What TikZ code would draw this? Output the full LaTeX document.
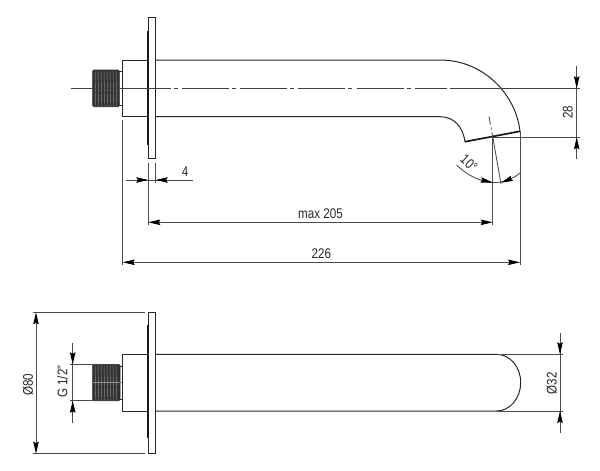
\documentclass[tikz,border=0pt]{standalone}
\usepackage{fontspec}
\setmainfont[FakeStretch=0.83]{Liberation Sans}
\usetikzlibrary{arrows.meta,positioning,calc}

\begin{document}
\begin{tikzpicture}[
    x=1pt, y=-1pt,
    part/.style={draw=black!85, line width=1pt},
    heavy/.style={draw=black!90, line width=1.7pt},
    dimline/.style={draw=black!70, line width=0.85pt},
    centerline/.style={draw=black!75, line width=0.75pt},
    tip/.tip={Stealth[length=12pt,width=5.5pt,inset=1.5pt,color=black]},
    arrow/.style={-tip, draw=black!70, line width=0.85pt},
    twoway/.style={tip-tip, draw=black!70, line width=0.85pt},
    dimtext/.style={font=\fontsize{14}{16}\selectfont, text=black!85, inner sep=0pt},
    thread/.style={fill=black!80, draw=black!85, rounded corners=1.2pt, line width=0.6pt},
    groove/.style={black!45, line width=0.45pt}
]
\useasboundingbox (0,0) rectangle (600,471);

% Top view: pipe
\coordinate (TopA) at (122.7,60);
\coordinate (TopB) at (122.7,116.7);
\coordinate (TipOut) at (520,131.3);
\coordinate (TipIn) at (465,141.7);
\coordinate (TipMid) at (492.7,136.5);
\draw[part] (155.7,60) -- (440,60) .. controls (484,60) and (516,95) .. (TipOut);
\draw[part] (155.7,116.7) -- (440,116.7) .. controls (455,116.7) and (463,128) .. (TipIn);
\draw[part] (148.3,60) -- (TopA) -- (TopB) -- (148.3,116.7);
\draw[heavy] (TipIn) -- (TipOut);

% Top view: flange
\draw[part, fill=white] (148.3,17.3) rectangle (155.7,158.7);
\draw[heavy] (147.8,30.7) -- (147.8,145);

% Top view: thread
\draw[part] (119.3,71.7) -- (122.7,71.7) (119.3,105) -- (122.7,105);
\draw[thread] (92.7,70) rectangle (119.3,106.7);
\foreach \tx in {95,98,...,117} {
  \draw[groove] (\tx,70.5) -- (\tx+0.8,106.2);
}

% Top view: centre lines
\draw[centerline] (71,88.3) -- (170.5,88.3);
\draw[centerline, dash pattern=on 4pt off 4.3pt on 47pt off 3pt] (173.5,88.3) -- (447,88.3);
\draw[centerline] (450,88.3) -- (580,88.3);
\draw[dimline, dash pattern=on 8pt off 3pt on 2pt off 3pt] (489,116.7) -- (TipMid);

% Extension lines
\coordinate (Ext4) at (155.7,183);
\coordinate (ExtFl) at (148.3,225);
\coordinate (ExtBody) at (122.7,265);
\coordinate (ExtIn) at (492.7,225);
\coordinate (ExtOut) at (520,265);
\draw[dimline] (155.7,162.7) -- (Ext4);
\draw[dimline] (148.3,162.7) -- (ExtFl);
\draw[dimline] (122.7,120) -- (ExtBody);
\draw[dimline] (TipMid) -- (ExtIn);
\draw[dimline] (TipOut) -- (ExtOut);
\draw[dimline] (TipMid) -- (501,184);
\draw[dimline] (493,137.3) -- (580,137.3);

% Dimension: 4
\draw[dimline] (126,180) -- (193,180);
\draw[arrow] (136,180) -- (148.3,180);
\draw[arrow] (168,180) -- (155.7,180);
\node[dimtext] (Thick) at (185,172) {4};

% Dimension: max 205
\draw[twoway] (148.3,222.3) -- node[dimtext, above=3pt] (Reach) {max 205} (492.7,222.3);

% Dimension: 226
\draw[twoway] (122.7,262.3) -- node[dimtext, above=3pt] (Total) {226} (520,262.3);

% Dimension: 28
\draw[dimline] (576.7,66) -- (576.7,159.3);
\draw[arrow] (576.7,76) -- (576.7,88.3);
\draw[arrow] (576.7,150) -- (576.7,137.3);
\node[dimtext, rotate=90] (Drop) at (567.7,112.3) {28};

% Dimension: 10 degrees
\draw[dimline] (456.7,165) .. controls (468,176) and (481,182) .. (493,182.5) .. controls (503,183) and (513,179) .. (520,173);
\draw[arrow] (481,180) -- (492.7,182.5);
\draw[arrow] (512,178.3) -- (501,182.7);
\node[dimtext, rotate=-42] (Angle) at (469,163) {10°};

% Side view: pipe
\coordinate (SideA) at (122.3,354.3);
\coordinate (SideB) at (122.3,411);
\draw[part] (155.7,354.3) -- (496.7,354.3) .. controls (510,354.3) and (520.7,367) .. (520.7,382.6)
  .. controls (520.7,398) and (510,411) .. (496.7,411) -- (155.7,411);
\draw[part] (148.3,354.3) -- (SideA) -- (SideB) -- (148.3,411);

% Side view: flange
\draw[part, fill=white] (148.3,312.3) rectangle (155.7,453.7);
\draw[heavy] (147.8,325) -- (147.8,438);

% Side view: thread
\draw[part] (120,366) -- (122.3,366) (120,399) -- (122.3,399);
\draw[thread] (92.7,364.3) rectangle (120,400.7);
\foreach \tx in {95,98,...,118} {
  \draw[groove] (\tx,364.8) -- (\tx+0.8,400.2);
}
\draw[groove] (92.7,382.6) -- (122.3,382.6);

% Dimension: 80
\draw[dimline] (33,312.3) -- (145,312.3);
\draw[dimline] (33,453.7) -- (145,453.7);
\draw[twoway] (36,312.3) -- (36,453.7);
\node[dimtext, rotate=90] (Plate) at (28,385) {Ø80};

% Dimension: G 1/2
\draw[dimline] (70,364.3) -- (92.7,364.3);
\draw[dimline] (70,400.7) -- (92.7,400.7);
\draw[dimline] (72.7,342.7) -- (72.7,423.3);
\draw[arrow] (72.7,352) -- (72.7,364.3);
\draw[arrow] (72.7,413) -- (72.7,400.7);
\node[dimtext, rotate=90] (Gauge) at (62.3,381.7) {G 1/2"};

% Dimension: 32
\draw[dimline] (496.7,354.3) -- (563,354.3);
\draw[dimline] (496.7,411) -- (563,411);
\draw[dimline] (560,332.7) -- (560,433.3);
\draw[arrow] (560,342) -- (560,354.3);
\draw[arrow] (560,423) -- (560,411);
\node[dimtext, rotate=90] (Width) at (551.7,383.3) {Ø32};
\end{tikzpicture}
\end{document}
